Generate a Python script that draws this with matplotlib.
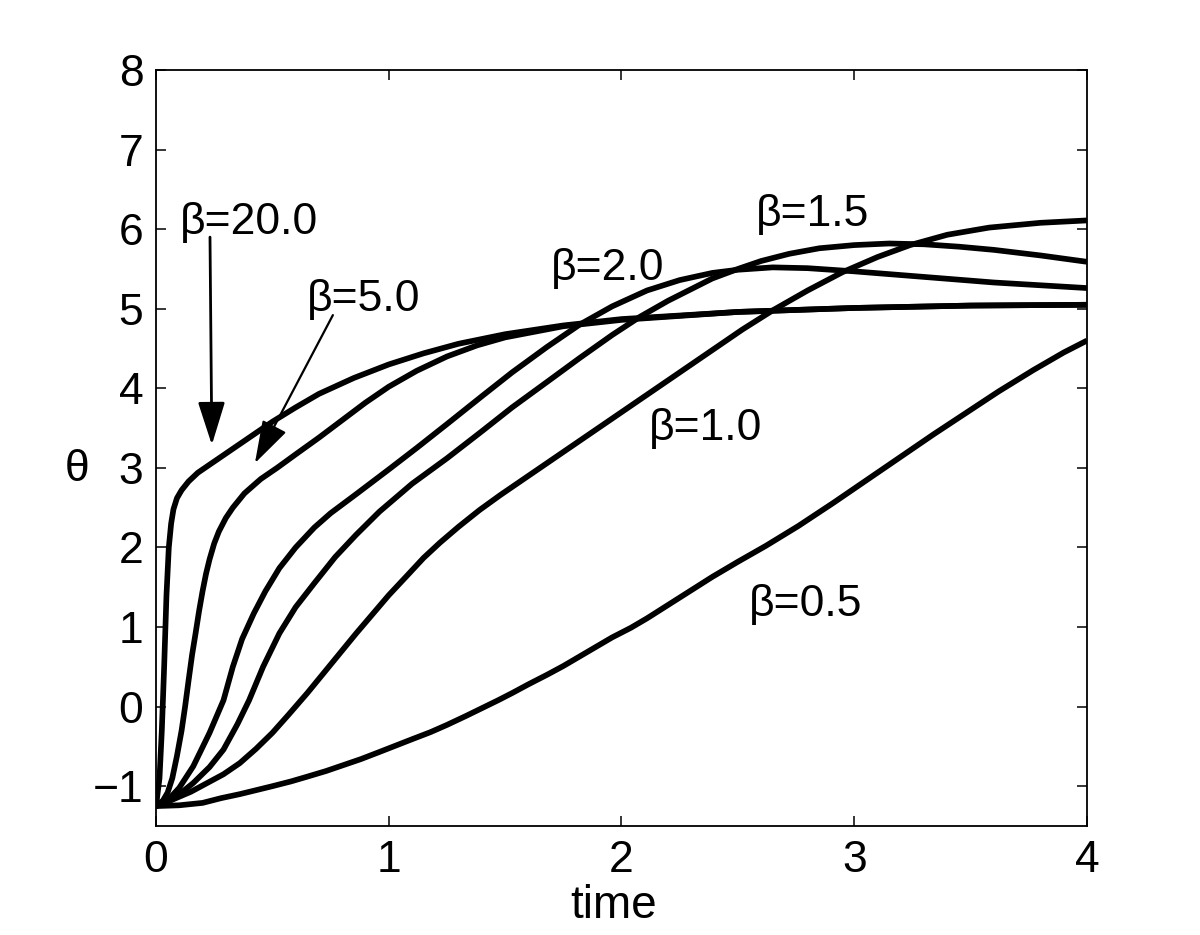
import matplotlib
matplotlib.use("Agg")
import matplotlib.pyplot as plt

plt.rcParams['font.family'] = ['Liberation Sans', 'DejaVu Sans']

# ---- data ----
t_b20 = [0, 0.015, 0.025, 0.035, 0.045, 0.055, 0.065, 0.075, 0.09, 0.11, 0.14, 0.18, 0.25, 0.32, 0.40,
         0.50, 0.60, 0.70, 0.85, 1.0, 1.15, 1.3, 1.5, 1.75, 2.0, 2.5, 3.0, 3.5, 4.0]
th_b20 = [-1.25, -0.9, -0.3, 0.5, 1.4, 2.0, 2.3, 2.48, 2.62, 2.72, 2.83, 2.94, 3.08, 3.22, 3.38,
          3.58, 3.76, 3.93, 4.13, 4.3, 4.44, 4.56, 4.68, 4.79, 4.87, 4.96, 5.01, 5.04, 5.05]

t_b5 = [0, 0.03, 0.05, 0.07, 0.09, 0.11, 0.125, 0.14, 0.155, 0.17, 0.185, 0.20, 0.215, 0.23, 0.25, 0.27,
        0.30, 0.33, 0.38, 0.45, 0.52, 0.60, 0.70, 0.80, 0.90, 1.0, 1.12, 1.25, 1.38, 1.5, 1.75, 2.0,
        2.5, 3.0, 3.5, 4.0]
th_b5 = [-1.25, -1.18, -1.08, -0.9, -0.62, -0.3, 0.0, 0.33, 0.65, 0.92, 1.2, 1.45, 1.67, 1.85, 2.05, 2.2,
         2.37, 2.5, 2.68, 2.86, 3.0, 3.17, 3.38, 3.6, 3.82, 4.02, 4.22, 4.4, 4.54, 4.64, 4.78, 4.86,
         4.96, 5.01, 5.04, 5.05]

t_b2 = [0, 0.05, 0.10, 0.16, 0.23, 0.29, 0.33, 0.37, 0.42, 0.47, 0.53, 0.60, 0.68, 0.75, 0.86, 1.0,
        1.12, 1.25, 1.4, 1.53, 1.68, 1.82, 1.96, 2.11, 2.25, 2.39, 2.5, 2.65, 2.8, 3.0, 3.3, 3.6, 4.0]
th_b2 = [-1.25, -1.18, -1.02, -0.75, -0.33, 0.08, 0.5, 0.85, 1.17, 1.45, 1.74, 2.0, 2.25, 2.43, 2.67, 2.98,
         3.25, 3.55, 3.9, 4.2, 4.52, 4.8, 5.03, 5.23, 5.36, 5.45, 5.49, 5.52, 5.51, 5.47, 5.40, 5.33, 5.26]

t_b15 = [0, 0.08, 0.16, 0.23, 0.29, 0.35, 0.40, 0.46, 0.53, 0.60, 0.68, 0.77, 0.86, 0.96, 1.1, 1.25,
         1.4, 1.53, 1.68, 1.82, 1.96, 2.08, 2.2, 2.39, 2.5, 2.6, 2.72, 2.85, 3.0, 3.15, 3.3, 3.45, 3.6,
         3.8, 4.0]
th_b15 = [-1.25, -1.15, -0.96, -0.76, -0.54, -0.22, 0.08, 0.5, 0.92, 1.25, 1.55, 1.88, 2.16, 2.45, 2.8, 3.12,
          3.46, 3.76, 4.08, 4.38, 4.67, 4.9, 5.1, 5.38, 5.5, 5.6, 5.69, 5.76, 5.8, 5.82, 5.81, 5.78, 5.74,
          5.67, 5.59]

t_b1 = [0, 0.07, 0.15, 0.22, 0.29, 0.36, 0.43, 0.50, 0.57, 0.65, 0.72, 0.79, 0.86, 0.93, 1.0, 1.08,
        1.15, 1.22, 1.3, 1.39, 1.48, 1.58, 1.68, 1.8, 1.9, 2.0, 2.11, 2.2, 2.29, 2.4, 2.52, 2.65, 2.8,
        2.95, 3.1, 3.24, 3.4, 3.58, 3.8, 4.0]
th_b1 = [-1.25, -1.17, -1.07, -0.96, -0.85, -0.71, -0.53, -0.33, -0.1, 0.17, 0.42, 0.67, 0.92, 1.16, 1.4, 1.65,
         1.87, 2.06, 2.26, 2.47, 2.66, 2.86, 3.06, 3.3, 3.5, 3.7, 3.92, 4.1, 4.28, 4.5, 4.74, 4.98, 5.23,
         5.46, 5.65, 5.8, 5.93, 6.02, 6.08, 6.11]

t_b05 = [0, 0.1, 0.2, 0.28, 0.36, 0.43, 0.5, 0.58, 0.65, 0.73, 0.8, 0.88, 0.96, 1.03, 1.1, 1.18, 1.25,
         1.33, 1.4, 1.47, 1.53, 1.6, 1.68, 1.75, 1.82, 1.89, 1.96, 2.04, 2.11, 2.18, 2.25, 2.32, 2.39,
         2.5, 2.62, 2.76, 2.91, 3.05, 3.2, 3.34, 3.48, 3.62, 3.77, 3.9, 4.0]
th_b05 = [-1.25, -1.24, -1.21, -1.15, -1.10, -1.05, -1.0, -0.94, -0.88, -0.81, -0.74, -0.66, -0.57, -0.49,
          -0.41, -0.32, -0.23, -0.12, -0.02, 0.08, 0.17, 0.28, 0.40, 0.51, 0.63, 0.75, 0.87, 0.99, 1.11,
          1.24, 1.37, 1.5, 1.63, 1.82, 2.02, 2.27, 2.56, 2.84, 3.14, 3.42, 3.69, 3.96, 4.23, 4.45, 4.6]

x_ticks = [0, 1, 2, 3, 4]
y_ticks = [-1, 0, 1, 2, 3, 4, 5, 6, 7, 8]
y_tick_labels = ['\u22121', '0', '1', '2', '3', '4', '5', '6', '7', '8']

series = [(t_b20, th_b20), (t_b5, th_b5), (t_b2, th_b2), (t_b15, th_b15), (t_b1, th_b1), (t_b05, th_b05)]

fig = plt.figure(figsize=(12, 9.35), dpi=100)
ax = fig.add_axes([0.13, 0.1166, 0.7758, 0.8085])

for t, th in series:
    ax.plot(t, th, color='black', lw=4.1, solid_joinstyle='round', solid_capstyle='butt')

ax.set_xlim(0, 4)
ax.set_ylim(-1.5, 8)
ax.set_xticks(x_ticks)
ax.set_yticks(y_ticks)
ax.set_yticklabels(y_tick_labels)
ax.tick_params(direction='in', length=7, width=1.1, top=True, right=True, labelsize=32)
ax.tick_params(axis='x', pad=10)
ax.tick_params(axis='y', pad=9)
for s in ax.spines.values():
    s.set_linewidth(1.3)

ax.set_xlabel('time', fontsize=33)
ax.xaxis.set_label_coords(0.492, -0.106)
ax.xaxis.label.set_va('center')
ax.set_ylabel('\u03b8', fontsize=32, rotation=0)
ax.yaxis.set_label_coords(-0.085, 0.471)
ax.yaxis.label.set_va('center')
ax.yaxis.label.set_ha('center')

fs = 32
ax.text(0.40, 6.09, '\u03b2=20.0', fontsize=fs, ha='center', va='center')
ax.text(0.89, 5.11, '\u03b2=5.0', fontsize=fs, ha='center', va='center')
ax.text(1.94, 5.51, '\u03b2=2.0', fontsize=fs, ha='center', va='center')
ax.text(2.82, 6.18, '\u03b2=1.5', fontsize=fs, ha='center', va='center')
ax.text(2.36, 3.50, '\u03b2=1.0', fontsize=fs, ha='center', va='center')
ax.text(2.79, 1.28, '\u03b2=0.5', fontsize=fs, ha='center', va='center')

ap = dict(arrowstyle='-|>,head_length=0.95,head_width=0.3', lw=2.0, color='black',
          shrinkA=0, shrinkB=0, mutation_scale=28)
ax.annotate('', xy=(0.24, 3.29), xytext=(0.232, 5.9), arrowprops=ap)
ax.annotate('', xy=(0.425, 3.06), xytext=(0.76, 4.92), arrowprops=dict(ap, lw=1.6))

fig.savefig('out.png', dpi=100)
